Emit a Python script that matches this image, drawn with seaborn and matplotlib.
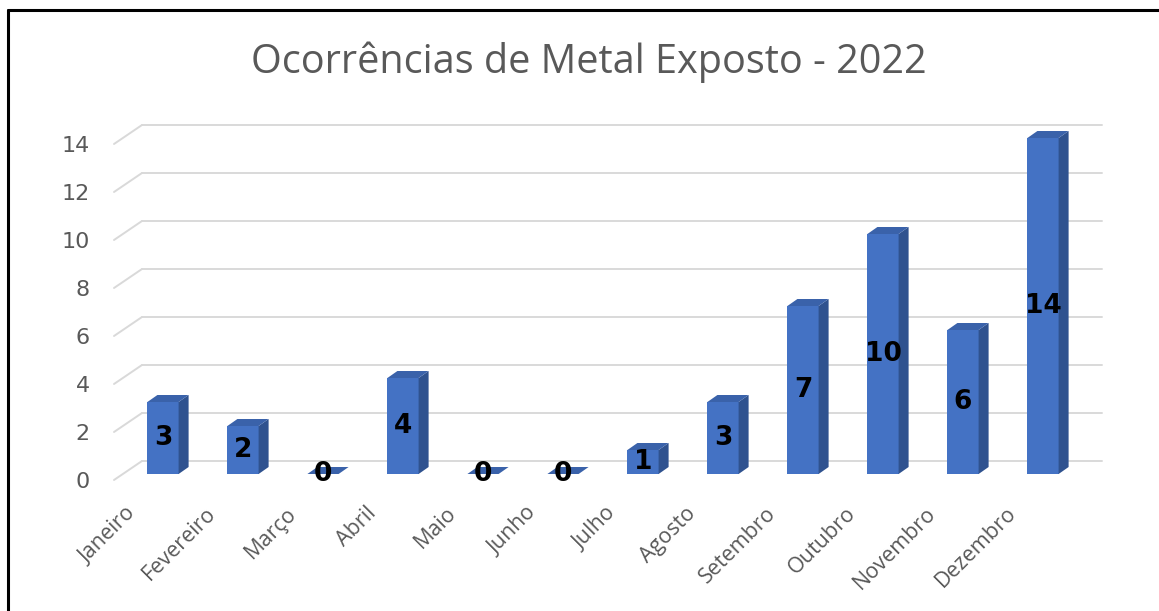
import numpy as np
import pandas as pd
import seaborn as sns
import matplotlib
matplotlib.use("Agg")
import matplotlib.pyplot as plt
from matplotlib.transforms import ScaledTranslation, IdentityTransform
from matplotlib.patches import Polygon
from matplotlib.lines import Line2D

# ---- data ----
months = ["Janeiro", "Fevereiro", "Março", "Abril", "Maio", "Junho",
          "Julho", "Agosto", "Setembro", "Outubro", "Novembro", "Dezembro"]
values = [3, 2, 0, 4, 0, 0, 1, 3, 7, 10, 6, 14]
yticks = [0, 2, 4, 6, 8, 10, 12, 14]
title = "Ocorrências de Metal Exposto - 2022"

W, H, DPI = 1159, 611, 100
sns.set_theme(style="white")
plt.rcParams["font.family"] = ["Open Sans", "DejaVu Sans"]

fig = plt.figure(figsize=(W / DPI, H / DPI), dpi=DPI)
fig.patch.set_facecolor("white")

# axes (bar plane): x -0.5 -> px 123, 11.5 -> px 1083 ; y 0 -> px 474, 24 px/unit
left_px, right_px, y0_px = 123, 1083, 474
ppu = 24.0
ymax = 14.6
ax = fig.add_axes([left_px / W, (H - y0_px) / H, (right_px - left_px) / W, ymax * ppu / H])
ax.set_facecolor("none")

df = pd.DataFrame({"mes": months, "ocorrencias": values})
sns.barplot(data=df, x="mes", y="ocorrencias", color="#4472C4", saturation=1,
            width=0.39, ax=ax, zorder=3, linewidth=0)
ax.set_xlim(-0.5, len(months) - 0.5)
ax.set_ylim(0, ymax)
for s in ax.spines.values():
    s.set_visible(False)
ax.set_xlabel("")
ax.set_ylabel("")
ax.grid(False)

# offsets (pixels) for 3D look
back_dx, back_dy = 19, 13
front_dx, front_dy = -9, -6
bar_dx, bar_dy = 10, 7

fig.canvas.draw()
T = ax.transData
I = IdentityTransform()

# gridlines on back wall + diagonal connectors
grid_c = "#D9D9D9"
x_lo, x_hi = ax.get_xlim()
for v in yticks:
    p0 = T.transform((x_lo, v))
    p1 = T.transform((x_hi, v))
    ax.add_line(Line2D([p0[0] + back_dx, p1[0] + back_dx], [p0[1] + back_dy, p1[1] + back_dy],
                       transform=I, color=grid_c, lw=1.4, zorder=1, clip_on=False))
    ax.add_line(Line2D([p0[0] + front_dx, p0[0] + back_dx], [p0[1] + front_dy, p0[1] + back_dy],
                       transform=I, color=grid_c, lw=1.4, zorder=1, clip_on=False))

# 3D faces for bars
side_c, top_c = "#2F528F", "#3A62AA"
for p in list(ax.patches):
    x, w, h = p.get_x(), p.get_width(), p.get_height()
    br = T.transform((x + w, 0))
    tl = T.transform((x, h)); tr = T.transform((x + w, h))
    side = [br, tr, (tr[0] + bar_dx, tr[1] + bar_dy), (br[0] + bar_dx, br[1] + bar_dy)]
    top = [tl, tr, (tr[0] + bar_dx, tr[1] + bar_dy), (tl[0] + bar_dx, tl[1] + bar_dy)]
    ax.add_patch(Polygon(side, closed=True, transform=I, facecolor=side_c,
                         edgecolor="none", zorder=4, clip_on=False))
    ax.add_patch(Polygon(top, closed=True, transform=I, facecolor=top_c,
                         edgecolor="none", zorder=4, clip_on=False))

# data labels
for i, v in enumerate(values):
    ax.text(i, v / 2, str(v), ha="center", va="center", fontsize=19, fontweight="bold",
            color="black", family="DejaVu Sans", zorder=6)

# y tick labels
ax.set_yticks(yticks)
ax.set_yticklabels([str(t) for t in yticks], family="DejaVu Sans")
ax.tick_params(axis="y", length=0, pad=24, labelsize=16, labelcolor="#595959")
for lab in ax.get_yticklabels():
    lab.set_transform(lab.get_transform() + ScaledTranslation(0, front_dy / DPI, fig.dpi_scale_trans))

# x tick labels
ax.tick_params(axis="x", length=0, pad=26, labelsize=15.5, labelcolor="#595959")
for lab in ax.get_xticklabels():
    lab.set_rotation(45)
    lab.set_ha("right")
    lab.set_va("center")
    lab.set_rotation_mode("anchor")
    lab.set_transform(lab.get_transform() + ScaledTranslation(-30 / DPI, 0, fig.dpi_scale_trans))

# title
fig.text(589 / W, 1 - 62 / H, title, ha="center", va="center", fontsize=28.5, color="#595959")

# border (top and left)
fig.add_artist(Line2D([8 / W, 1.0], [1 - 10 / H, 1 - 10 / H], transform=fig.transFigure,
                      color="black", lw=2.2))
fig.add_artist(Line2D([8 / W, 8 / W], [0, 1 - 10 / H], transform=fig.transFigure,
                      color="black", lw=2.2))

fig.savefig("out.png", dpi=DPI)
